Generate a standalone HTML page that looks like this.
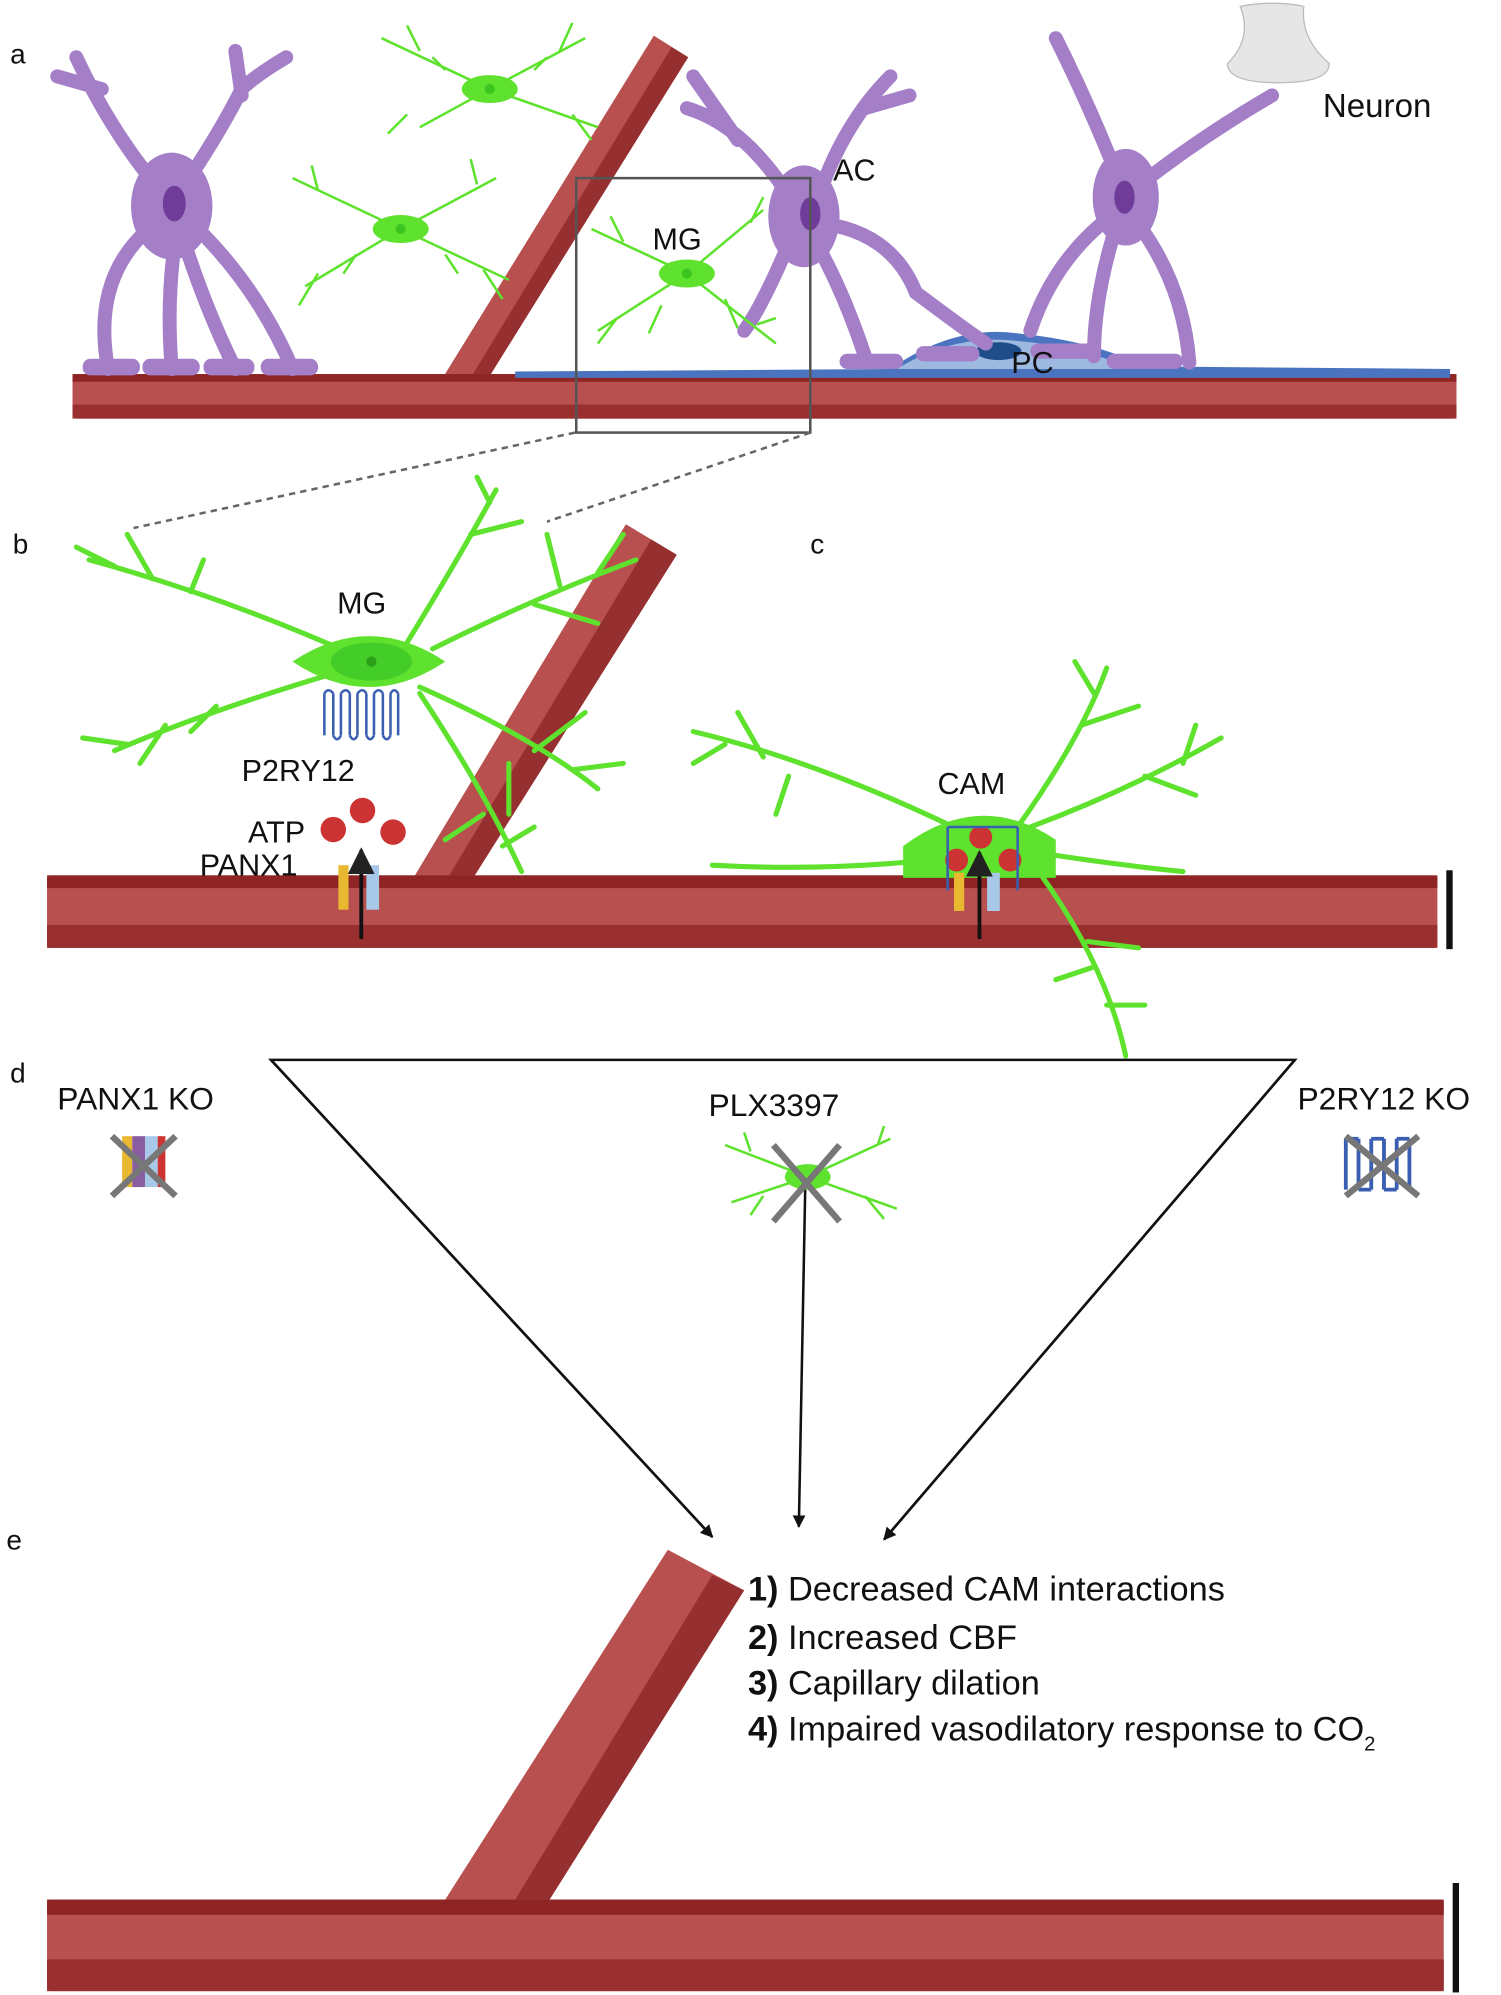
<!DOCTYPE html>
<html><head><meta charset="utf-8"><style>
html,body{margin:0;padding:0;background:#fff}
svg{display:block}
text{font-family:"Liberation Sans",sans-serif;fill:#111}
</style></head><body>
<svg width="1501" height="1995" viewBox="0 0 1180 1568" preserveAspectRatio="none" xmlns="http://www.w3.org/2000/svg">
<defs>
<marker id="ah" viewBox="0 0 10 10" refX="9" refY="5" markerWidth="7" markerHeight="7" orient="auto"><path d="M0,0L10,5L0,10z" fill="#222"/></marker>
<marker id="ah2" viewBox="0 0 10 10" refX="9" refY="5" markerWidth="5" markerHeight="5" orient="auto"><path d="M0,0L10,5L0,10z" fill="#111"/></marker>
</defs>

<text x="8" y="50" font-size="22">a</text>
<path d="M975,5 Q1000,0 1025,5 Q1022,30 1045,50 Q1045,65 1005,65 Q965,65 965,50 Q985,30 975,5z" fill="#e6e6e6" stroke="#bbb"/>
<text x="1040" y="92" font-size="26">Neuron</text>

<polygon points="348,297 384,297 541,45 514,28" fill="#b85050"/>
<polygon points="370,297 384,297 541,45 528,37" fill="#962f2f"/>
<rect x="57" y="294" width="1088" height="35" rx="4" fill="#b85050"/>
<rect x="57" y="294" width="1088" height="6" fill="#8e2424"/>
<rect x="57" y="318" width="1088" height="11" fill="#992f2f"/>
<path d="M405,292 L700,290 Q750,255 800,262 Q860,268 900,288 L1140,290 L1140,297 L405,297z" fill="#4a74c0"/>
<path d="M705,290 Q750,262 800,268 Q850,272 890,290z" fill="#9db9e0"/>
<ellipse cx="785" cy="276" rx="18" ry="7" fill="#1e4d8a"/>

<g fill="none" stroke="#a47fc7" stroke-width="11" stroke-linecap="round">
<path d="M135,160 Q90,110 60,45 M80,70 L45,60"/>
<path d="M135,160 Q170,110 190,70 Q200,60 225,45 M190,75 L185,40"/>
<path d="M130,170 Q70,210 85,290"/>
<path d="M140,175 Q130,230 135,290"/>
<path d="M145,170 Q200,220 230,290"/>
<path d="M140,175 Q160,240 185,290"/>
<path d="M630,170 Q590,100 540,85 M580,110 L545,60"/>
<path d="M640,165 Q660,100 700,60 M680,85 L715,75"/>
<path d="M640,175 Q700,180 720,230 Q760,260 775,270"/>
<path d="M635,180 Q660,220 680,280"/>
<path d="M625,180 Q600,240 585,260"/>
<path d="M885,155 Q860,90 830,30"/>
<path d="M890,150 Q940,110 1000,75"/>
<path d="M880,165 Q830,200 810,260"/>
<path d="M890,170 Q930,220 935,285"/>
<path d="M880,170 Q860,230 860,280"/>
</g>
<g fill="#a47fc7">
<ellipse cx="135" cy="162" rx="32" ry="42"/>
<ellipse cx="632" cy="170" rx="28" ry="40"/>
<ellipse cx="885" cy="155" rx="26" ry="38"/>
<rect x="65" y="282" width="45" height="13" rx="6"/><rect x="112" y="282" width="45" height="13" rx="6"/>
<rect x="160" y="282" width="40" height="13" rx="6"/><rect x="205" y="282" width="45" height="13" rx="6"/>
<rect x="660" y="278" width="50" height="12" rx="6"/><rect x="720" y="272" width="50" height="12" rx="6"/>
<rect x="810" y="270" width="50" height="12" rx="6"/><rect x="870" y="278" width="60" height="12" rx="6"/>
</g>
<g fill="#6f3c9a"><ellipse cx="137" cy="160" rx="9" ry="14"/><ellipse cx="637" cy="168" rx="8" ry="13"/><ellipse cx="884" cy="155" rx="8" ry="13"/></g>
<text x="655" y="142" font-size="24">AC</text>
<text x="795" y="293" font-size="24">PC</text>

<g stroke="#5ee22d" stroke-width="2" fill="none">
<path d="M385,70 L300,30 M385,70 L330,100 M385,70 L460,30 M385,70 L470,100 M330,40 L320,20 M440,40 L450,18 M320,90 L305,105 M450,90 L465,110 M350,55 L340,45 M420,55 L430,45"/>
<path d="M315,180 L230,140 M315,180 L240,225 M315,180 L390,140 M315,180 L400,220 M250,150 L245,130 M250,215 L235,240 M375,145 L370,125 M380,212 L395,235 M280,200 L270,215 M350,200 L360,215"/>
<path d="M540,215 L465,180 M540,215 L470,260 M540,215 L600,165 M540,215 L610,270 M490,190 L480,170 M485,250 L470,270 M590,175 L600,155 M595,255 L610,250 M520,240 L510,262 M570,235 L580,258"/>
</g>
<g fill="#5ee22d"><ellipse cx="385" cy="70" rx="22" ry="11"/><ellipse cx="315" cy="180" rx="22" ry="11"/><ellipse cx="540" cy="215" rx="22" ry="11"/></g>
<g fill="#3cc420"><circle cx="385" cy="70" r="4"/><circle cx="315" cy="180" r="4"/><circle cx="540" cy="215" r="4"/></g>
<text x="513" y="196" font-size="24">MG</text>

<rect x="453" y="140" width="184" height="200" fill="none" stroke="#555" stroke-width="2"/>
<line x1="452" y1="340" x2="105" y2="415" stroke="#666" stroke-width="2" stroke-dasharray="5,4"/>
<line x1="637" y1="340" x2="430" y2="410" stroke="#666" stroke-width="2" stroke-dasharray="5,4"/>

<text x="10" y="435" font-size="22">b</text>
<text x="637" y="435" font-size="22">c</text>
<polygon points="325,690 372,690 532,436 492,412" fill="#b85050"/>
<polygon points="352,690 372,690 532,436 512,424" fill="#962f2f"/>
<rect x="37" y="688" width="1093" height="57" rx="3" fill="#b85050"/>
<rect x="37" y="688" width="1093" height="10" fill="#8e2424"/>
<rect x="37" y="727" width="1093" height="18" fill="#992f2f"/>
<rect x="1137" y="684" width="5" height="62" fill="#111"/>

<g stroke="#5ee22d" stroke-width="4" fill="none" stroke-linecap="round">
<path d="M290,520 Q180,470 70,440 M120,455 L100,420 M90,445 L60,430 M150,465 L160,440"/>
<path d="M260,530 Q160,560 90,590 M130,570 L110,600 M100,585 L65,580 M170,555 L150,575"/>
<path d="M320,505 Q360,440 390,385 M370,420 L410,410 M385,395 L375,375"/>
<path d="M340,510 Q420,470 500,440 M440,460 L430,420 M470,450 L490,420 M420,475 L470,490"/>
<path d="M330,540 Q420,580 470,620 M420,590 L460,560 M450,605 L490,600 M400,600 L400,640"/>
<path d="M330,545 Q380,620 410,685 M380,640 L350,660 M395,665 L420,650"/>
<path d="M770,660 Q650,600 545,575 M600,595 L580,560 M620,610 L610,640 M570,585 L545,600"/>
<path d="M740,675 Q650,685 560,680"/>
<path d="M800,650 Q850,580 870,525 M850,570 L895,555 M860,545 L845,520"/>
<path d="M810,650 Q890,620 960,580 M900,610 L940,625 M930,600 L940,570"/>
<path d="M815,670 Q880,680 930,685"/>
<path d="M820,690 Q870,760 885,830 M860,760 L830,770 M870,790 L900,790 M855,740 L895,745"/>
</g>
<path d="M230,520 Q290,480 350,520 Q290,560 230,520z" fill="#5ee22d"/>
<ellipse cx="292" cy="520" rx="32" ry="15" fill="#44cc28"/><circle cx="292" cy="520" r="4" fill="#2a9f18"/>
<path d="M710,665 Q770,620 830,660 L830,690 L710,690z" fill="#5ee22d"/>
<text x="265" y="482" font-size="24">MG</text>
<text x="737" y="624" font-size="24">CAM</text>

<path d="M255,545 L255,578 M262,545 L262,578 M268,545 L268,578 M275,545 L275,578 M281,545 L281,578 M288,545 L288,578 M294,545 L294,578 M301,545 L301,578 M307,545 L307,578 M313,545 L313,578" stroke="#3a5fb0" stroke-width="2" fill="none"/>
<path d="M255,545 Q258,540 262,545 M268,545 Q272,540 275,545 M281,545 Q285,540 288,545 M294,545 Q298,540 301,545 M307,545 Q310,540 313,545 M262,578 Q265,584 268,578 M275,578 Q278,584 281,578 M288,578 Q291,584 294,578 M301,578 Q304,584 307,578" stroke="#3a5fb0" stroke-width="2" fill="none"/>
<text x="190" y="614" font-size="24">P2RY12</text>
<text x="195" y="662" font-size="24">ATP</text>
<text x="157" y="688" font-size="24">PANX1</text>
<g fill="#cc3333"><circle cx="262" cy="652" r="10"/><circle cx="285" cy="637" r="10"/><circle cx="309" cy="654" r="10"/>
<circle cx="752" cy="676" r="9"/><circle cx="771" cy="658" r="9"/><circle cx="794" cy="676" r="9"/></g>
<rect x="266" y="680" width="8" height="35" fill="#e8b830"/><rect x="288" y="680" width="10" height="35" fill="#a8c8e8"/>
<rect x="750" y="686" width="8" height="30" fill="#e8b830"/><rect x="776" y="686" width="10" height="30" fill="#a8c8e8"/>
<path d="M745,650 L745,700 M800,650 L800,700 M745,650 L800,650" stroke="#3a5fb0" stroke-width="2" fill="none"/>
<line x1="284" y1="738" x2="284" y2="668" stroke="#111" stroke-width="3" marker-end="url(#ah)"/>
<line x1="770" y1="738" x2="770" y2="670" stroke="#111" stroke-width="3" marker-end="url(#ah)"/>

<text x="8" y="851" font-size="22">d</text>
<polyline points="560,1208 213,833 1018,833 695,1210" fill="none" stroke="#111" stroke-width="2"/>
<line x1="213" y1="833" x2="560" y2="1208" stroke="#111" stroke-width="2" marker-end="url(#ah2)"/>
<line x1="1018" y1="833" x2="695" y2="1210" stroke="#111" stroke-width="2" marker-end="url(#ah2)"/>
<line x1="633" y1="935" x2="628" y2="1200" stroke="#111" stroke-width="2" marker-end="url(#ah2)"/>
<text x="45" y="872" font-size="25">PANX1 KO</text>
<text x="557" y="877" font-size="25">PLX3397</text>
<text x="1020" y="872" font-size="25">P2RY12 KO</text>
<rect x="96" y="893" width="8" height="40" fill="#e8b830"/><rect x="104" y="893" width="10" height="40" fill="#8a5ca0"/><rect x="114" y="893" width="10" height="40" fill="#a8c8e8"/><rect x="124" y="893" width="6" height="40" fill="#c33"/>
<path d="M88,893 L138,940 M138,893 L88,940" stroke="#777" stroke-width="5"/>
<g stroke="#5ee22d" stroke-width="2" fill="none"><path d="M635,925 L570,900 M635,925 L575,945 M635,925 L700,895 M635,925 L705,950 M590,905 L585,890 M690,900 L695,885 M600,940 L590,955 M680,940 L695,958"/></g>
<ellipse cx="635" cy="925" rx="18" ry="10" fill="#5ee22d"/>
<path d="M608,900 L660,960 M660,900 L608,960" stroke="#777" stroke-width="5"/>
<path d="M1058,895 L1058,935 M1068,895 L1068,935 M1078,895 L1078,935 M1088,895 L1088,935 M1098,895 L1098,935 M1108,895 L1108,935 M1058,895 L1068,895 M1078,895 L1088,895 M1098,895 L1108,895 M1068,935 L1078,935 M1088,935 L1098,935" stroke="#3a5fb0" stroke-width="3" fill="none"/>
<path d="M1058,893 L1115,940 M1115,893 L1058,940" stroke="#777" stroke-width="5"/>

<text x="5" y="1218" font-size="22">e</text>
<polygon points="350,1493 432,1493 585,1250 525,1218" fill="#b85050"/>
<polygon points="405,1493 432,1493 585,1250 560,1238" fill="#962f2f"/>
<rect x="37" y="1493" width="1098" height="72" rx="3" fill="#b85050"/>
<rect x="37" y="1493" width="1098" height="12" fill="#8e2424"/>
<rect x="37" y="1540" width="1098" height="25" fill="#992f2f"/>
<rect x="1142" y="1480" width="5" height="86" fill="#111"/>
<g font-size="27">
<text x="588" y="1258"><tspan font-weight="bold">1)</tspan> Decreased CAM interactions</text>
<text x="588" y="1296"><tspan font-weight="bold">2)</tspan> Increased CBF</text>
<text x="588" y="1332"><tspan font-weight="bold">3)</tspan> Capillary dilation</text>
<text x="588" y="1368"><tspan font-weight="bold">4)</tspan> Impaired vasodilatory response to CO<tspan font-size="16" dy="8">2</tspan></text>
</g>
</svg>
</body></html>
